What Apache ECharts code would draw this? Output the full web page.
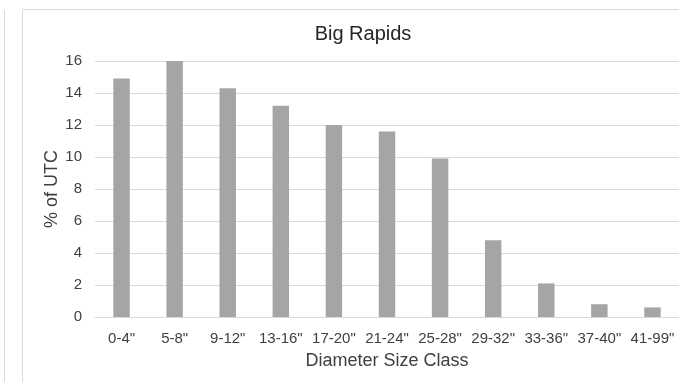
<!DOCTYPE html>
<html>
<head>
<meta charset="utf-8">
<script src="https://cdn.jsdelivr.net/npm/echarts@6/dist/echarts.min.js"></script>
<style>
html, body { margin: 0; padding: 0; background: #fff; }
#chart { width: 679px; height: 382px; }
</style>
</head>
<body>
<div id="chart"></div>
<script>
// diameter classes and % of urban tree canopy
var sizeClasses = ['0-4"', '5-8"', '9-12"', '13-16"', '17-20"', '21-24"', '25-28"', '29-32"', '33-36"', '37-40"', '41-99"'];
var pctUTC = [14.9, 16.0, 14.3, 13.2, 12.0, 11.6, 9.9, 4.8, 2.1, 0.8, 0.6];

var myChart = echarts.init(document.getElementById('chart'));
var fontFam = 'Liberation Sans, Arial, sans-serif';
var txtColor = '#404040';

var option = {
    animation: false,
    backgroundColor: '#fff',
    title: {
        text: 'Big Rapids',
        left: 358,
        top: 19,
        textAlign: 'center',
        textStyle: {
            fontFamily: fontFam,
            fontSize: 20,
            fontWeight: 'normal',
            color: '#262626'
        }
    },
    graphic: [
        // frame of neighbouring chart and of this one
        { type: 'line', shape: { x1: 4.5, y1: 10, x2: 4.5, y2: 382 }, style: { stroke: '#d9d9d9', lineWidth: 1 } },
        { type: 'polyline', shape: { points: [[22.5, 382], [22.5, 9.5], [679, 9.5]] }, style: { stroke: '#d9d9d9', lineWidth: 1, fill: null } }
    ],
    grid: {
        left: 95,
        right: -2,
        top: 61,
        bottom: 65
    },
    xAxis: {
        type: 'category',
        data: sizeClasses,
        name: 'Diameter Size Class',
        nameLocation: 'middle',
        nameGap: 35,
        nameMoveOverlap: false,
        nameTextStyle: { fontFamily: fontFam, fontSize: 18, color: txtColor },
        axisLine: { show: true, lineStyle: { color: '#d9d9d9' } },
        axisTick: { show: false },
        axisLabel: { fontFamily: fontFam, fontSize: 15, color: txtColor, margin: 14, interval: 0 }
    },
    yAxis: {
        type: 'value',
        min: 0,
        max: 16,
        interval: 2,
        name: '% of UTC',
        nameLocation: 'middle',
        nameGap: 34,
        nameRotate: 90,
        nameMoveOverlap: false,
        nameTextStyle: { fontFamily: fontFam, fontSize: 18, color: txtColor },
        axisLine: { show: false },
        axisTick: { show: false },
        axisLabel: { fontFamily: fontFam, fontSize: 15, color: txtColor, margin: 13 },
        splitLine: { lineStyle: { color: '#d9d9d9', width: 1 } }
    },
    series: [{
        type: 'bar',
        data: pctUTC,
        barWidth: '31%',
        itemStyle: { color: '#a5a5a5' }
    }]
};

myChart.setOption(option);
</script>
</body>
</html>
